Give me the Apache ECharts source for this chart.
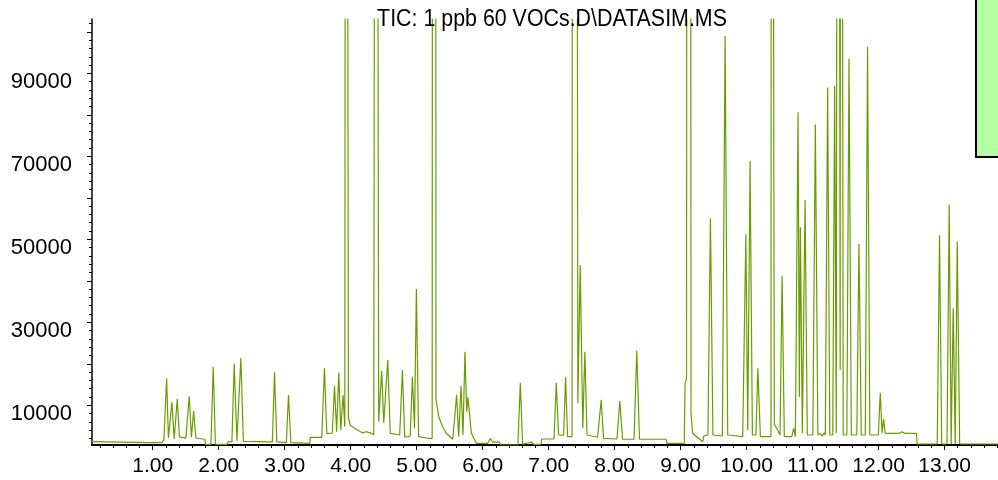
<!DOCTYPE html>
<html>
<head>
<meta charset="utf-8">
<script src="https://cdn.jsdelivr.net/npm/echarts@6/dist/echarts.min.js"></script>
<style>
  html, body { margin: 0; padding: 0; background: #ffffff; }
  #chart { width: 998px; height: 480px; }
</style>
</head>
<body>
<div id="chart"></div>
<script>
// Total ion chromatogram, SIM acquisition
const traceTitle = 'TIC: 1 ppb 60 VOCs.D\\DATASIM.MS';

// Axis ranges and labelled ticks
const timeRange = [0.08, 13.81];
const abundanceRange = [430, 103100];
const timeTicks = [1, 2, 3, 4, 5, 6, 7, 8, 9, 10, 11, 12, 13];
const abundanceLabels = [10000, 30000, 50000, 70000, 90000];
const abundanceTicks = [10000, 20000, 30000, 40000, 50000, 60000, 70000, 80000, 90000, 100000];

// Trace points: [retention time (min), abundance]
const traceEarly = [
  [0.080, 1230], [0.958, 990], [1.140, 990], [1.170, 1640], [1.211, 16500], [1.238, 2100],
  [1.291, 10700], [1.326, 1880], [1.372, 11500], [1.405, 2400], [1.503, 2100], [1.553, 12200],
  [1.587, 2290], [1.620, 8600], [1.655, 2050], [1.791, 1810], [1.799, 600], [1.882, 600],
  [1.917, 19200], [1.950, 600], [2.129, 600], [2.139, 1160], [2.200, 1160], [2.235, 20000],
  [2.276, 1470], [2.336, 21400], [2.374, 1280], [2.813, 1160], [2.846, 17950], [2.881, 1160],
  [3.025, 1000], [3.058, 12500], [3.093, 990], [3.381, 840], [3.388, 2290]
];
const traceMid = [
  [3.562, 2290], [3.603, 18900], [3.638, 3250], [3.721, 3300], [3.755, 14700], [3.787, 3640],
  [3.820, 17900], [3.850, 4050], [3.885, 12500], [3.911, 4840], [3.920, 4840], [3.930, 400000],
  [3.958, 400000], [3.966, 7000], [3.995, 5200], [4.077, 4300], [4.183, 3330], [4.229, 3640],
  [4.259, 3700], [4.319, 3250], [4.350, 2840], [4.372, 2840], [4.382, 400000], [4.410, 400000],
  [4.425, 6050], [4.470, 18300], [4.501, 5740], [4.562, 20900], [4.600, 3250], [4.743, 2840],
  [4.784, 18500], [4.819, 2290], [4.902, 2600], [4.936, 16900], [4.967, 4460], [4.996, 38000],
  [5.030, 2430], [5.167, 2050], [5.235, 2050], [5.245, 400000], [5.283, 400000], [5.293, 11300],
  [5.340, 7000], [5.400, 4600], [5.450, 3250], [5.546, 1810], [5.606, 12500], [5.637, 2400],
  [5.672, 14650], [5.702, 2840], [5.732, 22900], [5.758, 8460], [5.777, 11900], [5.829, 3250],
  [5.905, 840], [6.076, 840], [6.117, 2050], [6.151, 1100], [6.257, 1100], [6.273, 430],
  [6.534, 430], [6.571, 15450], [6.606, 600], [6.737, 1160], [6.772, 600], [6.886, 600],
  [6.893, 1880]
];
const traceLate = [
  [7.082, 1880], [7.116, 15450], [7.151, 2840], [7.227, 2800], [7.257, 16800], [7.287, 2430],
  [7.355, 2430], [7.365, 400000], [7.414, 400000], [7.443, 10480], [7.479, 43800], [7.518, 4460],
  [7.549, 22900], [7.582, 2840], [7.741, 2300], [7.797, 11300], [7.832, 2050], [8.036, 1880],
  [8.079, 11000], [8.120, 1810], [8.294, 1810], [8.336, 23150], [8.377, 1810], [8.781, 1810],
  [8.789, 840], [9.055, 840], [9.068, 15300], [9.090, 16500], [9.100, 400000], [9.145, 400000],
  [9.158, 8000], [9.182, 3250], [9.335, 1230], [9.352, 2600], [9.414, 2840], [9.452, 55070],
  [9.490, 2840], [9.633, 2600], [9.674, 99000], [9.714, 2840], [9.941, 2430], [9.989, 51200],
  [10.017, 4050], [10.053, 68900], [10.088, 2840], [10.141, 2840], [10.171, 18900], [10.209, 2430]
];
const traceFinal = [
  [10.370, 2430], [10.378, 400000], [10.406, 400000], [10.420, 5500], [10.471, 4050], [10.507, 2840],
  [10.538, 41200], [10.572, 2430], [10.686, 2430], [10.713, 4450], [10.739, 2430], [10.780, 80600],
  [10.800, 12000], [10.815, 52900], [10.845, 3250], [10.886, 59500], [10.920, 2840], [11.004, 2840],
  [11.042, 77700], [11.080, 2840], [11.117, 3200], [11.148, 2600], [11.178, 3400], [11.193, 2840],
  [11.228, 86600], [11.261, 2840], [11.306, 2840], [11.334, 87000], [11.359, 3250], [11.375, 3250],
  [11.386, 400000], [11.404, 400000], [11.418, 18500], [11.430, 400000], [11.452, 400000], [11.464, 2840],
  [11.519, 2840], [11.552, 93600], [11.587, 2840], [11.670, 2840], [11.703, 48900], [11.738, 2840],
  [11.799, 2840], [11.833, 96400], [11.867, 2840], [11.996, 2840], [12.026, 13000], [12.053, 3250],
  [12.076, 6600], [12.101, 3250], [12.314, 3250], [12.354, 3600], [12.400, 3250], [12.575, 3250],
  [12.583, 670], [12.889, 670], [12.924, 51000], [12.957, 670], [13.037, 670], [13.070, 58400],
  [13.100, 670], [13.131, 33400], [13.162, 670], [13.192, 49400], [13.229, 670], [13.810, 670]
];

// Minor tick positions: every 0.2 min, every 2000 counts
const minorTimeTicks = [];
for (let i = 1; i <= 69; i++) { if (i % 5 !== 0) minorTimeTicks.push(+(i * 0.2).toFixed(1)); }
const minorAbundanceTicks = [];
for (let i = 1; i <= 51; i++) { if (i % 5 !== 0) minorAbundanceTicks.push(i * 2000); }

const chart = echarts.init(document.getElementById('chart'), null, { renderer: 'canvas' });
const FONT = '"Liberation Sans", Arial, sans-serif';

chart.setOption({
  animation: false,
  backgroundColor: '#ffffff',
  grid: { left: 92, right: 0, top: 19, bottom: 35, containLabel: false },
  xAxis: [
    {
      type: 'value', min: timeRange[0], max: timeRange[1], position: 'bottom',
      axisLine: { show: true, lineStyle: { color: '#000', width: 2 } },
      axisTick: { show: true, customValues: timeTicks, length: 5, lineStyle: { color: '#000', width: 1 } },
      axisLabel: {
        customValues: timeTicks, formatter: v => v.toFixed(2),
        fontFamily: FONT, fontSize: 21, color: '#000', margin: 11
      },
      splitLine: { show: false }
    },
    {
      type: 'value', min: timeRange[0], max: timeRange[1], position: 'bottom',
      axisLine: { show: false },
      axisTick: { show: true, customValues: minorTimeTicks, length: 3, lineStyle: { color: '#000', width: 1 } },
      axisLabel: { show: false },
      splitLine: { show: false }
    }
  ],
  yAxis: [
    {
      type: 'value', min: abundanceRange[0], max: abundanceRange[1], position: 'left',
      axisLine: { show: true, lineStyle: { color: '#000', width: 1.5 } },
      axisTick: { show: true, customValues: abundanceTicks, length: 5, lineStyle: { color: '#000', width: 1 } },
      axisLabel: {
        customValues: abundanceLabels, formatter: v => String(v),
        fontFamily: FONT, fontSize: 22, color: '#000', margin: 20,
        verticalAlign: 'top', lineHeight: 18
      },
      splitLine: { show: false }
    },
    {
      type: 'value', min: abundanceRange[0], max: abundanceRange[1], position: 'left',
      axisLine: { show: false },
      axisTick: { show: true, customValues: minorAbundanceTicks, length: 3, lineStyle: { color: '#000', width: 1 } },
      axisLabel: { show: false },
      splitLine: { show: false }
    }
  ],
  series: [
    {
      name: 'TIC', type: 'line', xAxisIndex: 0, yAxisIndex: 0,
      data: [].concat(traceEarly, traceMid, traceLate, traceFinal),
      showSymbol: false, symbol: 'none', clip: true,
      lineStyle: { color: '#6a9c00', width: 1.2 }
    }
  ],
  graphic: [
    {
      type: 'text', x: 552, y: 20, z: 100, scaleX: 0.93,
      style: {
        text: traceTitle, fill: '#000', font: '23px ' + FONT,
        textAlign: 'center', textVerticalAlign: 'middle'
      }
    },
    {
      type: 'rect', z: 100,
      shape: { x: 976, y: -3, width: 30, height: 160 },
      style: { fill: '#b4ffa4', stroke: '#000', lineWidth: 2 }
    }
  ]
});
</script>
</body>
</html>
